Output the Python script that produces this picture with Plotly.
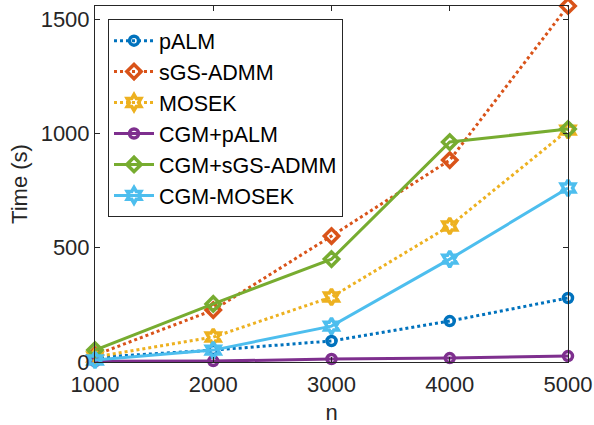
import plotly.graph_objects as go

n_values = [1000, 2000, 3000, 4000, 5000]
palm = [20, 52, 92, 179, 280]
sgs_admm = [30, 227, 551, 883, 1557]
mosek = [22, 109, 284, 595, 1014]
cgm_palm = [3, 4, 13, 17, 26]
cgm_sgs_admm = [52, 254, 450, 962, 1019]
cgm_mosek = [9, 52, 157, 450, 761]

series = [
    ("pALM", palm, "#0072BD", "dot", "circle-open", 9),
    ("sGS-ADMM", sgs_admm, "#D95319", "dot", "diamond-open", 11),
    ("MOSEK", mosek, "#EDB120", "dot", "hexagram-open", 12),
    ("CGM+pALM", cgm_palm, "#7E2F8E", "solid", "circle-open", 9),
    ("CGM+sGS-ADMM", cgm_sgs_admm, "#77AC30", "solid", "diamond-open", 11),
    ("CGM-MOSEK", cgm_mosek, "#4DBEEE", "solid", "hexagram-open", 12),
]

fig = go.Figure()
for name, ys, color, dash, sym, size in series:
    fig.add_trace(go.Scatter(
        x=n_values, y=ys, name=name, mode="lines+markers",
        line=dict(color=color, width=3, dash=dash),
        marker=dict(symbol=sym, size=size, color=color, line=dict(width=3.5, color=color)),
        cliponaxis=False,
    ))

axis_color = "#262626"
fam = "Liberation Sans, Arial, sans-serif"
font = dict(family=fam, size=22, color=axis_color)

fig.update_layout(
    width=594, height=425,
    margin=dict(l=95, r=26, t=6, b=63),
    paper_bgcolor="white", plot_bgcolor="white",
    font=font,
    showlegend=True,
    legend=dict(
        x=0.0275, y=0.963, xanchor="left", yanchor="top",
        bgcolor="white", bordercolor=axis_color, borderwidth=1,
        font=dict(family=fam, size=21.5, color="black"),
        tracegroupgap=0, itemwidth=40,
    ),
    xaxis=dict(
        title=dict(text="n", font=dict(family=fam, size=22, color=axis_color)),
        range=[1000, 5000], tickvals=n_values, automargin=False,
        showgrid=False, zeroline=False, ticklabelstandoff=3,
        showline=True, linecolor=axis_color, linewidth=1, mirror="ticks",
        ticks="inside", ticklen=5, tickcolor=axis_color,
    ),
    yaxis=dict(
        title=dict(text="Time (s)", standoff=6, font=dict(family=fam, size=22, color=axis_color)),
        range=[0, max(sgs_admm)], tickvals=[0, 500, 1000, 1500], automargin=False,
        showgrid=False, zeroline=False,
        showline=True, linecolor=axis_color, linewidth=1, mirror="ticks",
        ticks="inside", ticklen=5, tickcolor=axis_color,
    ),
)

fig.write_html(
    "out.html",
    config={"displayModeBar": False},
    post_script="document.body.style.margin='0';document.body.style.overflow='hidden';",
)
